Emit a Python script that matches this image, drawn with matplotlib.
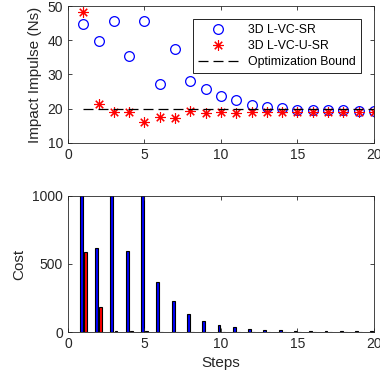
import numpy as np
import matplotlib.pyplot as plt

steps = np.arange(1, 21)
# impact impulse per step (Ns)
imp_sr = [44.8, 39.8, 45.7, 35.4, 45.7, 27.2, 37.5, 28.0, 25.7, 23.7,
          22.5, 21.0, 20.5, 20.2, 19.7, 19.7, 19.7, 19.6, 19.3, 19.3]
imp_usr = [48.3, 21.3, 18.9, 18.9, 16.0, 17.7, 17.2, 19.2, 18.6, 18.9,
           18.7, 18.9, 18.9, 18.9, 18.9, 18.9, 18.9, 18.9, 18.9, 18.9]
bound = 20.0

# cost per step
cost_sr = [1500, 620, 1500, 595, 1500, 370, 230, 130, 80, 55,
           38, 25, 18, 14, 10, 8, 6, 6, 4, 4]
cost_usr = [590, 185, 8, 8, 5, 3, 3, 3, 3, 3,
            3, 3, 3, 3, 3, 3, 3, 3, 3, 3]

plt.rcParams['font.family'] = ['Liberation Sans', 'DejaVu Sans']
grey = '#262626'

fig = plt.figure(figsize=(3.8, 3.76), dpi=100)
ax1 = fig.add_axes([0.179, 0.620, 0.805, 0.364])
ax2 = fig.add_axes([0.179, 0.117, 0.805, 0.362])

ax1.plot(steps, imp_sr, 'o', mfc='none', mec='blue', ms=7, mew=0.9, label='3D L-VC-SR')
ax1.plot(steps, imp_usr, marker=(8, 2, 0), ls='none', color='red', mec='red',
         ms=7.5, mew=0.8, label='3D L-VC-U-SR')
ax1.plot([1, 20], [bound, bound], '--', color='black', lw=0.9, dashes=(8, 4),
         label='Optimization Bound')
ax1.set_xlim(0, 20)
ax1.set_ylim(10, 50)
ax1.set_yticks([10, 20, 30, 40, 50])
ax1.set_xticks([0, 5, 10, 15, 20])
ax1.set_ylabel('Impact Impulse (Ns)', fontsize=11, color=grey)
leg = ax1.legend(loc='upper right', fontsize=8.8, frameon=True, fancybox=False,
                 edgecolor='black', framealpha=1, handlelength=3.3,
                 borderaxespad=0, labelspacing=0.35, borderpad=0.4,
                 bbox_to_anchor=(0.957, 0.905))
leg.get_frame().set_linewidth(0.6)

w = 0.19
ax2.bar(steps - 0.13, cost_sr, width=w, color='blue', edgecolor='black', lw=0.8)
ax2.bar(steps + 0.14, cost_usr, width=w, color='red', edgecolor='black', lw=0.8)
ax2.set_xlim(0, 20)
ax2.set_ylim(0, 1000)
ax2.set_yticks([0, 500, 1000])
ax2.set_xticks([0, 5, 10, 15, 20])
ax2.set_ylabel('Cost', fontsize=11, color=grey)
ax2.set_xlabel('Steps', fontsize=11, color=grey)

for ax in (ax1, ax2):
    ax.tick_params(direction='in', top=True, right=True, labelsize=10,
                   colors=grey, length=3, width=0.6)
    for s in ax.spines.values():
        s.set_linewidth(0.6)
        s.set_color(grey)

fig.savefig('out.png', dpi=100)
